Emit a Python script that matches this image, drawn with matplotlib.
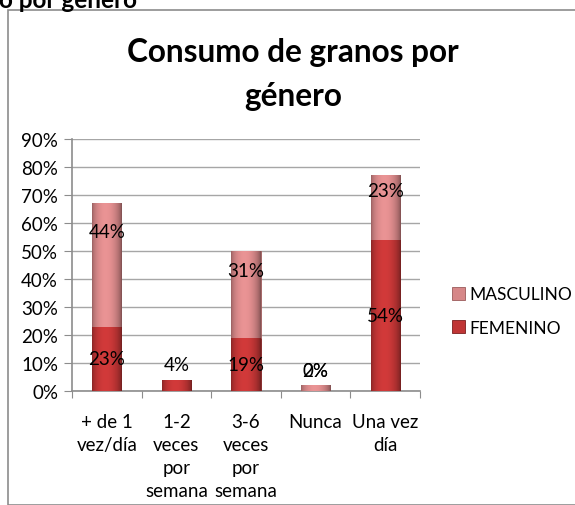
import numpy as np
import matplotlib
matplotlib.use("Agg")
import matplotlib.pyplot as plt
from matplotlib.patches import Rectangle
from matplotlib.colors import to_rgb

plt.rcParams['font.family'] = ['Lato', 'DejaVu Sans']

categories = ["+ de 1\nvez/día", "1-2\nveces\npor\nsemana", "3-6\nveces\npor\nsemana", "Nunca", "Una vez\ndía"]
femenino = [23, 4, 19, 0, 54]
masculino = [44, np.nan, 31, 2, 23]
yticks = [0, 10, 20, 30, 40, 50, 60, 70, 80, 90]

W, H = 575, 506
fig = plt.figure(figsize=(W / 100, H / 100), dpi=100)

# chart frame
fig.patches.append(Rectangle((8 / W, 0), 1, 1 - 11 / H, transform=fig.transFigure,
                             fill=False, edgecolor="#8c8c8c", linewidth=1.2, zorder=0))
# partially visible text from behind
fig.text(-1 / W, 1 - 8 / H, "o por género", fontsize=17.5, fontweight="bold",
         ha="left", va="baseline", color="black")

ax = fig.add_axes([72 / W, 1 - 392 / H, (420 - 72) / W, (392 - 140) / H])

x = np.arange(len(categories))
width = 0.42
f_col = "#c03535"
m_col = "#d68788"

fem = np.array(femenino, dtype=float)
mas = np.nan_to_num(np.array(masculino, dtype=float))
b1 = ax.bar(x, fem, width, color=f_col, edgecolor="#7a1f1f", linewidth=0.6, zorder=3, label="FEMENINO")
b2 = ax.bar(x, mas, width, bottom=fem, color=m_col, edgecolor="#9a5a5a", linewidth=0.6, zorder=3, label="MASCULINO")


def shade(bars, base):
    rgb = np.array(to_rgb(base))
    t = np.linspace(0, 1, 64)
    fac = 0.70 + 0.45 * np.sin(np.pi * t) ** 0.6 - 0.12 * t
    for p in bars:
        h = p.get_height()
        if h <= 0:
            continue
        img = np.clip(rgb[None, None, :] * fac[None, :, None], 0, 1)
        x0, y0 = p.get_x(), p.get_y()
        im = ax.imshow(img, extent=(x0, x0 + p.get_width(), y0, y0 + h),
                       aspect="auto", zorder=3.5, interpolation="bilinear")
        im.set_clip_path(p)


shade(b1, f_col)
shade(b2, m_col)

ax.set_xlim(-0.5, len(categories) - 0.5)
ax.set_ylim(0, 90)
ax.set_yticks(yticks)
ax.set_yticklabels([f"{v}%" for v in yticks])
ax.yaxis.grid(True, color="#a6a6a6", linewidth=1.0, zorder=0)
ax.set_axisbelow(True)
ax.set_xticks(np.arange(len(categories) + 1) - 0.5, minor=False)
ax.set_xticklabels([])
ax.set_xticks(x, minor=True)
ax.set_xticklabels(categories, minor=True, fontsize=13.5, linespacing=1.42, va="top")
ax.tick_params(axis="x", which="minor", length=0, pad=16)
ax.tick_params(axis="x", which="major", length=5, color="#8c8c8c", direction="out")
ax.tick_params(axis="y", length=6, color="#8c8c8c", labelsize=13.5, pad=4)
for s in ["top", "right"]:
    ax.spines[s].set_visible(False)
for s in ["left", "bottom"]:
    ax.spines[s].set_color("#8c8c8c")
    ax.spines[s].set_linewidth(1.2)

# data labels (upper series labels sit high in their segment, as in the 3D original)
fs = 13.5
for i in range(len(categories)):
    tot = fem[i] + mas[i]
    fv = femenino[i]
    mv = masculino[i]
    if fv >= 5:
        ax.text(x[i], fv / 2, f"{fv:.0f}%", ha="center", va="center", fontsize=fs, zorder=5)
    else:
        ax.annotate(f"{fv:.0f}%", (x[i], tot), xytext=(0, 11), textcoords="offset points",
                    ha="center", va="center", fontsize=fs, zorder=5)
    if not np.isnan(mv):
        if mv >= 5:
            ax.text(x[i], fv + mv * 0.77, f"{mv:.0f}%", ha="center", va="center", fontsize=fs, zorder=5)
        else:
            ax.annotate(f"{mv:.0f}%", (x[i], tot), xytext=(0, 11), textcoords="offset points",
                        ha="center", va="center", fontsize=fs, zorder=5)

fig.text(293 / W, 1 - 62 / H, "Consumo de granos por", fontsize=22.7, fontweight="bold",
         ha="center", va="baseline")
fig.text(293 / W, 1 - 106 / H, "género", fontsize=22.7, fontweight="bold",
         ha="center", va="baseline")

handles = [b2, b1]
leg = fig.legend(handles, ["MASCULINO", "FEMENINO"], loc="center left",
                 bbox_to_anchor=(452 / W, 1 - 312 / H), frameon=False, fontsize=12.5,
                 handlelength=0.75, handleheight=0.75, handletextpad=0.25, labelspacing=1.0,
                 borderaxespad=0, borderpad=0)

fig.savefig("out.png", dpi=100)
